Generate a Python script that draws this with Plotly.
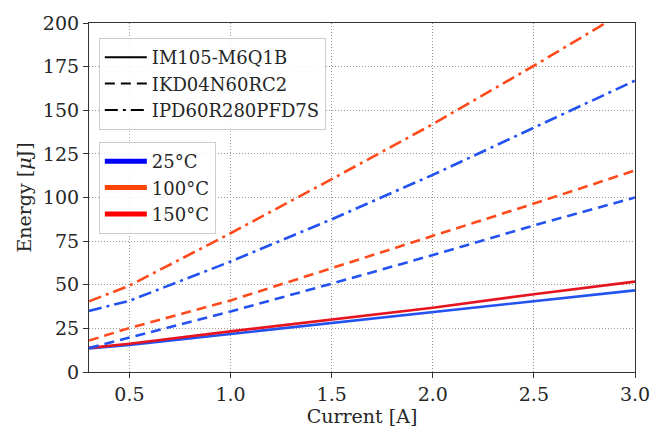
import plotly.graph_objects as go

current = [0.3, 0.5, 1.0, 1.5, 2.0, 2.5, 3.0]

im105_25 = [13.5, 15.5, 21.8, 28.0, 34.2, 40.8, 46.8]
im105_150 = [13.8, 16.2, 23.3, 30.0, 36.8, 44.6, 51.8]
ikd_25 = [13.8, 19.8, 34.7, 50.6, 67.0, 84.0, 100.0]
ikd_100 = [18.0, 25.2, 41.0, 59.5, 78.0, 96.5, 115.5]
ipd_25 = [35.0, 40.8, 63.3, 87.5, 113.0, 140.0, 167.0]
ipd_100 = [40.5, 49.5, 79.5, 110.5, 142.0, 175.5, 210.0]

device_names = ["IM105-M6Q1B", "IKD04N60RC2", "IPD60R280PFD7S"]
temp_names = ["25°C", "100°C", "150°C"]

x_ticks = [0.5, 1.0, 1.5, 2.0, 2.5, 3.0]
y_ticks = [0, 25, 50, 75, 100, 125, 150, 175, 200]

BLUE = "#2352f0"
ORANGE = "#ff4a1c"
RED = "#e6141e"
temp_colors = ["#0000ff", "#ff4500", "#ff0000"]
DASHED = "10px,6px"
DASHDOT = "13px,5px,3px,5px"
dashes = ["solid", DASHED, DASHDOT]

fig = go.Figure()

series = [
    (im105_25, BLUE, "solid"),
    (im105_150, RED, "solid"),
    (ikd_25, BLUE, DASHED),
    (ikd_100, ORANGE, DASHED),
    (ipd_25, BLUE, DASHDOT),
    (ipd_100, ORANGE, DASHDOT),
]
for ys, col, dash in series:
    fig.add_trace(go.Scatter(x=current, y=ys, mode="lines",
                             line=dict(color=col, width=2.6, dash=dash),
                             showlegend=False, hoverinfo="skip"))

for name, dash in zip(device_names, dashes):
    fig.add_trace(go.Scatter(x=[None], y=[None], mode="lines", name=name,
                             line=dict(color="black", width=2, dash=dash),
                             legend="legend"))
for name, col in zip(temp_names, temp_colors):
    fig.add_trace(go.Scatter(x=[None], y=[None], mode="lines", name=name,
                             line=dict(color=col, width=5),
                             legend="legend2"))

FONT = "DejaVu Serif"
TXT = "#262626"
legend_style = dict(
    bgcolor="rgba(255,255,255,0.85)", bordercolor="#cccccc", borderwidth=1,
    font=dict(family=FONT, size=18, color=TXT),
    xanchor="left", yanchor="top", tracegroupgap=0, itemwidth=42,
)

grid = dict(showgrid=True, gridcolor="#9a9a9a", griddash="1px,2px", gridwidth=1)

fig.update_layout(
    width=651, height=432,
    margin=dict(l=89, r=16, t=23, b=60),
    paper_bgcolor="white", plot_bgcolor="white",
    font=dict(family=FONT, size=18, color=TXT),
    legend=dict(x=0.018, y=0.957, **legend_style),
    legend2=dict(x=0.018, y=0.659, **legend_style),
    xaxis=dict(
        range=[0.3, 3.0], tickvals=x_ticks, ticktext=[f"{v:.1f}" for v in x_ticks],
        title=dict(text="Current [A]", font=dict(size=19), standoff=2),
        showline=True, linecolor="#333333", linewidth=1.2, mirror=True,
        ticks="outside", ticklen=5, tickcolor="#333333", ticklabeloverflow="allow",
        zeroline=False, tickfont=dict(size=19), automargin=False, **grid,
    ),
    yaxis=dict(
        range=[0, 200], tickvals=y_ticks,
        title=dict(text="Energy [<i>μ</i>J]", font=dict(size=19), standoff=6),
        showline=True, linecolor="#333333", linewidth=1.2, mirror=True,
        ticks="outside", ticklen=5, tickcolor="#333333", ticklabeloverflow="allow",
        zeroline=False, tickfont=dict(size=19), automargin=False, **grid,
    ),
)

fig.write_html("out.html")
